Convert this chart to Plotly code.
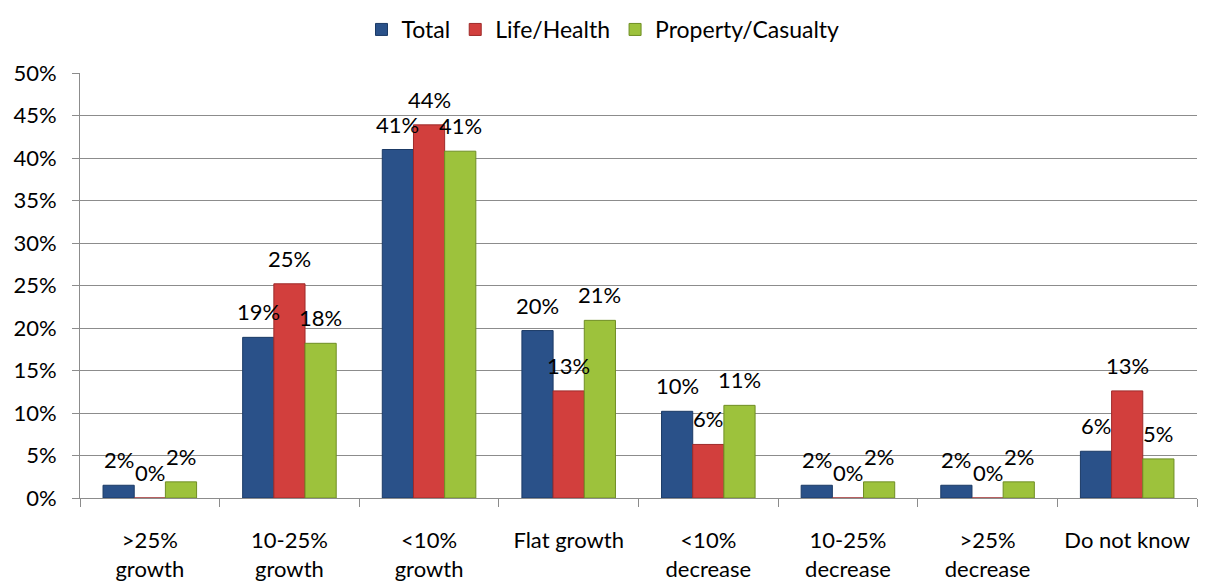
import plotly.graph_objects as go

categories = [">25%<br>growth", "10-25%<br>growth", "<10%<br>growth", "Flat growth",
              "<10%<br>decrease", "10-25%<br>decrease", ">25%<br>decrease", "Do not know"]
total = [1.5, 18.9, 41.0, 19.7, 10.2, 1.5, 1.5, 5.5]
life_health = [0, 25.2, 43.9, 12.6, 6.3, 0, 0, 12.6]
property_casualty = [1.9, 18.2, 40.8, 20.9, 10.9, 1.9, 1.9, 4.6]

series = [
    ("Total", total, "#2A5189", "#1B3A66"),
    ("Life/Health", life_health, "#D23F3D", "#9E2B2A"),
    ("Property/Casualty", property_casualty, "#9DC23C", "#6F8E24"),
]

bar_px = 140 * (1 - 0.33) / 3  # width of one bar in pixels

fig = go.Figure()
for i, (name, vals, col, edge) in enumerate(series):
    fig.add_trace(go.Bar(
        x=categories, y=vals, name=name,
        marker=dict(color=col, line=dict(color=edge, width=1)),
    ))
    # data labels, lifted a little above the bar tops like the original
    for c, v in zip(categories, vals):
        fig.add_annotation(x=c, y=v, xref="x", yref="y", text=f"{v:.0f}%",
                           showarrow=False, yanchor="bottom", yshift=10,
                           xshift=(i - 1) * bar_px,
                           font=dict(size=22, color="#000000"))

# page body has an 8px margin, so margins are offset to land the plot where the original has it
fig.update_layout(
    width=1206, height=587,
    margin=dict(l=72, r=17, t=65, b=97, autoexpand=False),
    barmode="group", bargap=0.33, bargroupgap=0,
    plot_bgcolor="white", paper_bgcolor="white",
    font=dict(family="Lato, Open Sans, sans-serif", size=22, color="#000000"),
    legend=dict(orientation="h", x=0.5 - 8 / 1206, xanchor="center", xref="container",
                y=1, yanchor="top", yref="container",
                font=dict(size=23), traceorder="normal"),
)
fig.update_yaxes(range=[0, 50], dtick=5, ticksuffix="%", showgrid=True,
                 gridcolor="#8C8C8C", gridwidth=1, showline=True, linecolor="#8C8C8C",
                 ticks="outside", ticklen=7, tickcolor="#8C8C8C", zeroline=False,
                 ticklabelstandoff=11, automargin=False)
fig.update_xaxes(showline=True, linecolor="#8C8C8C", ticks="outside", ticklen=8,
                 tickcolor="#8C8C8C", tickson="boundaries", ticklabelstandoff=23,
                 automargin=False)

fig.write_html("out.html")
